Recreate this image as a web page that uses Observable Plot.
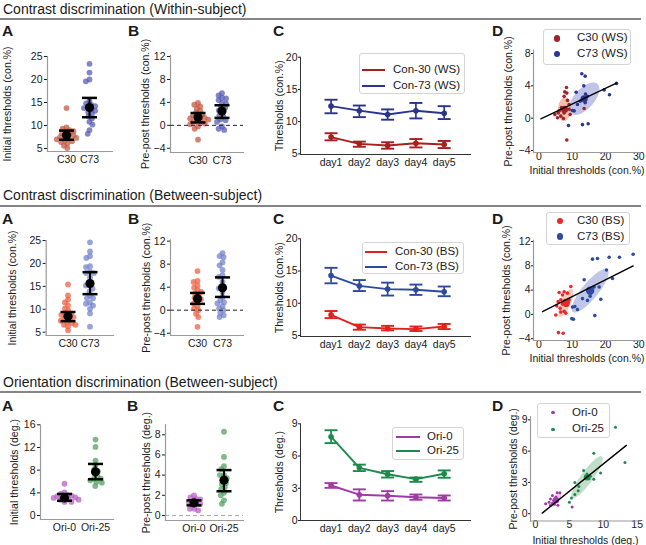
<!DOCTYPE html>
<html><head><meta charset="utf-8">
<script src="https://cdn.jsdelivr.net/npm/d3@7"></script>
<script src="https://cdn.jsdelivr.net/npm/@observablehq/plot@0.6"></script>
<style>
body{margin:0;background:#fff;}
#fig{position:relative;width:646px;height:545px;overflow:hidden;background:#fff;font-family:"Liberation Sans",Arial,Helvetica,sans-serif;color:#1a1a1a;}
.sec{position:absolute;left:3px;font-size:14px;line-height:1;white-space:nowrap;}
.rule{position:absolute;left:0;width:641px;height:0;border-top:2px solid #858585;}
.let{position:absolute;font-weight:bold;font-size:15.5px;line-height:1;}
.legend{position:absolute;background:#fff;border:1px solid #d4d4d4;border-radius:3px;box-sizing:border-box;}
.lg{position:absolute;font-size:11.5px;line-height:1;white-space:nowrap;}
.mk{position:absolute;border-radius:50%;}
.ln{position:absolute;height:0;border-top:2px solid;}
</style></head><body><div id="fig"></div><script>
// ---------------- DATA ----------------
const days = ["day1", "day2", "day3", "day4", "day5"];

// Row 1: Contrast discrimination (Within-subject)
const wsCats = ["C30", "C73"];
const wsInitC30 = [13.8, 9.6, 9.3, 9.0, 8.8, 8.6, 8.3, 8.1, 7.9, 7.7, 7.5, 7.3, 7.1, 7.0, 6.8, 6.6, 6.4, 6.1, 5.6, 5.1];
const wsInitC73 = [23.4, 21.5, 20.0, 19.6, 15.3, 14.8, 14.5, 14.2, 14.0, 13.8, 13.5, 13.2, 12.9, 12.5, 12.0, 11.5, 10.8, 10.2, 9.0, 8.2];
const wsInitStats = [[7.9, 6.9, 8.9], [13.9, 11.8, 16.0]];
const wsPreC30 = [3.9, 3.6, 3.3, 2.9, 2.5, 2.2, 1.9, 1.7, 1.6, 1.3, 1.2, 0.9, 0.6, 0.6, 0.3, 0.2, -0.2, -0.6, -2.5, 1.0];
const wsPreC73 = [5.6, 5.2, 4.8, 4.7, 4.4, 3.9, 3.8, 3.2, 3.1, 2.6, 2.2, 1.7, 1.5, 1.0, 0.9, 0.6, -0.2, -0.6, -0.8];
const wsPreStats = [[1.4, 0.5, 2.15], [2.5, 1.3, 3.5]];
const wsSeries = ["Con-30 (WS)", "Con-73 (WS)"];
const wsC30Mean = [7.6, 6.55, 6.3, 6.65, 6.45];
const wsC30Lo = [7.1, 6.1, 5.8, 6.0, 5.9];
const wsC30Hi = [8.2, 6.9, 6.8, 7.3, 7.0];
const wsC73Mean = [12.4, 11.7, 11.1, 11.7, 11.3];
const wsC73Lo = [11.3, 10.7, 10.3, 10.5, 10.4];
const wsC73Hi = [13.4, 12.5, 11.9, 12.9, 12.4];
const wsScC30x = [8.3, 7.8, 8.4, 7.6, 8.6, 6.8, 6.1, 4.8, 5.6, 6.6, 7.6, 9.1, 9.4, 8.4, 7.1, 8.1, 7.4, 5.8, 9.1, 13.6];
const wsScC30y = [3.8, 3.25, 3.1, 2.7, 2.2, 1.3, 0.9, 0.45, 0.05, 0.25, 0.65, 1.1, 0.45, -2.7, 1.2, 0.95, -0.05, 0.65, 1.7, 1.2];
const wsScC73x = [12.9, 13.9, 11.2, 12.4, 13.6, 14.6, 10.1, 10.6, 13.1, 14.8, 8.9, 13.9, 11.6, 23.3, 21.2, 19.6, 13.5, 14.0];
const wsScC73y = [5.5, 5.2, 3.2, 2.1, 2.3, 2.7, 0.95, 0.9, -0.8, -0.7, -0.9, 1.9, 1.7, 4.3, 2.9, 3.5, 4.0, 3.0];
const wsEllC30 = [7.7, 1.1, 0.5, 1.45, 1.9, -0.25];   // centre x, y, axis1 dx, dy, axis2 dx, dy
const wsEllC73 = [13.6, 2.4, 4.0, 1.83, 2.2, -0.83];
const wsFit = [0.194, -0.196, 0.6, 23.3];             // slope, intercept, x from, x to

// Row 2: Contrast discrimination (Between-subject)
const bsCats = ["C30", "C73"];
const bsInitC30 = [15.4, 13.0, 12.1, 11.5, 10.8, 10.2, 9.7, 9.2, 9.0, 8.8, 8.5, 8.3, 7.9, 7.8, 7.5, 7.2, 7.0, 6.6, 6.6, 6.3, 5.4];
const bsInitC73 = [24.6, 22.6, 21.6, 21.2, 19.4, 19.2, 18.2, 17.9, 17.9, 16.9, 15.2, 15.2, 14.5, 13.9, 13.0, 12.4, 12.4, 11.4, 11.2, 10.8, 10.1, 9.1, 6.2];
const bsInitStats = [[8.5, 7.4, 9.4], [15.6, 13.3, 18.1]];
const bsPreC30 = [6.8, 5.1, 4.9, 4.3, 3.9, 3.5, 3.2, 2.9, 2.5, 2.2, 1.9, 1.6, 1.2, 0.7, 0.3, 0.0, -0.6, -1.2, -2.9];
const bsPreC73 = [9.9, 9.4, 9.2, 8.3, 7.8, 7.0, 6.1, 5.8, 4.9, 4.1, 3.8, 3.2, 2.3, 1.7, 1.4, 1.2, 0.7, 0.3, 0.0, -0.5, -0.9, -1.2];
const bsPreStats = [[2.0, 1.1, 3.0], [3.9, 2.3, 5.7]];
const bsSeries = ["Con-30 (BS)", "Con-73 (BS)"];
const bsC30Mean = [8.2, 6.3, 6.1, 6.0, 6.4];
const bsC30Lo = [7.7, 5.9, 5.8, 5.7, 6.0];
const bsC30Hi = [8.8, 6.7, 6.5, 6.4, 6.8];
const bsC73Mean = [14.3, 12.7, 12.2, 12.1, 11.8];
const bsC73Lo = [13.1, 11.9, 11.2, 11.3, 11.1];
const bsC73Hi = [15.5, 13.6, 13.2, 12.9, 12.6];
const bsScC30x = [6.1, 7.1, 7.6, 8.6, 5.8, 6.6, 5.4, 6.4, 5.1, 7.6, 8.1, 9.1, 9.6, 5.9, 7.3, 6.6, 7.1, 7.8, 8.4];
const bsScC30y = [3.6, 3.2, 3.7, 3.5, 2.1, 2.4, 1.4, 1.0, -0.1, 0.5, 0.2, 2.4, 4.6, -3.0, -3.1, 0.4, 1.7, 2.1, 1.5];
const bsScC73x = [16.1, 17.6, 21.1, 24.2, 28.3, 20.3, 13.6, 22.1, 16.6, 18.1, 15.4, 18.6, 10.8, 11.6, 10.1, 9.9, 10.4, 16.8, 14.6, 13.1];
const bsScC73y = [9.1, 9.2, 9.4, 9.4, 9.9, 7.3, 5.7, 5.9, 4.5, 4.5, 3.0, 2.5, 1.3, 0.8, 1.2, -0.7, -0.8, -0.2, 2.3, 2.6];
const bsEllC30 = [8.1, 1.9, 1.8, 2.27, 1.3, -0.35];
const bsEllC73 = [15.4, 3.9, 5.2, 3.5, 1.9, -0.83];
const bsFit = [0.277, 0.135, 1.1, 28.3];

// Row 3: Orientation discrimination (Between-subject)
const orCats = ["Ori-0", "Ori-25"];
const orInit0 = [5.6, 4.1, 3.8, 3.6, 3.5, 3.4, 3.2, 3.2, 3.1, 2.9, 2.8, 2.8, 2.4, 2.4];
const orInit25 = [13.4, 12.1, 9.7, 8.9, 8.2, 7.8, 7.4, 6.9, 6.5, 6.5, 6.2, 5.9, 5.8, 5.2];
const orInitStats = [[3.1, 2.6, 3.8], [7.7, 6.4, 9.1]];
const orPre0 = [2.0, 1.8, 1.65, 1.6, 1.4, 1.3, 1.15, 1.15, 1.0, 0.66, 0.66, 0.5];
const orPre25 = [8.3, 5.8, 4.9, 4.6, 4.0, 4.0, 3.7, 3.5, 3.2, 3.1, 2.8, 2.6, 2.25, 2.0, 1.5, 1.15];
const orPreStats = [[1.25, 1.0, 1.5], [3.5, 2.4, 4.5]];
const orSeries = ["Ori-0", "Ori-25"];
const or0Mean = [3.26, 2.4, 2.3, 2.17, 2.1];
const or0Lo = [3.04, 1.86, 1.86, 1.93, 1.86];
const or0Hi = [3.48, 2.9, 2.73, 2.42, 2.33];
const or25Mean = [7.8, 4.9, 4.3, 3.85, 4.35];
const or25Lo = [7.2, 4.6, 4.0, 3.6, 3.98];
const or25Hi = [8.4, 5.2, 4.6, 4.0, 4.66];
const orSc0x = [3.2, 3.6, 2.5, 3.0, 2.2, 2.7, 3.2, 2.0, 2.5, 2.8, 1.5, 2.2, 3.3, 5.4];
const orSc0y = [2.0, 2.0, 1.75, 1.6, 1.4, 1.3, 1.2, 1.1, 1.0, 0.9, 0.95, 0.8, 0.8, 0.65];
const orSc25x = [11.8, 8.6, 13.2, 9.6, 7.1, 7.6, 8.1, 7.4, 7.9, 8.6, 5.8, 6.4, 6.3, 5.8, 5.3, 5.0];
const orSc25y = [8.3, 5.8, 4.9, 3.9, 4.15, 3.8, 3.6, 3.45, 3.35, 3.3, 3.0, 2.6, 2.2, 1.85, 1.5, 1.1];
const orEll0 = [3.0, 1.3, 0.74, 0.64, 0.35, -0.17];
const orEll25 = [7.6, 3.5, 2.2, 1.98, 0.72, -0.34];
const orFit = [0.523, -0.46, 0.99, 13.4];

// ---------------- DRAWING ----------------
const fig = document.getElementById("fig");
const FONT = '"Liberation Sans", Arial, Helvetica, sans-serif';
const baseStyle = {fontFamily: FONT, fontSize: "10.5px", color: "#1a1a1a", background: "transparent", overflow: "visible"};
const capSymbol = {draw(ctx, size) { const w = Math.sqrt(size / Math.PI); ctx.moveTo(-w, 0); ctx.lineTo(w, 0); }};

function dims(box, fr) {
  return {width: box.w, height: box.h, marginLeft: fr.l - box.x, marginRight: box.x + box.w - fr.r,
          marginTop: fr.t - box.y, marginBottom: box.y + box.h - fr.b};
}
function put(svg, box) {
  svg.style.position = "absolute"; svg.style.left = box.x + "px"; svg.style.top = box.y + "px";
  fig.appendChild(svg);
}
function html(cls, text, css) {
  const e = document.createElement("div"); e.className = cls; if (text) e.textContent = text;
  Object.assign(e.style, css); fig.appendChild(e); return e;
}

function strip(c) {
  const d = dims(c.box, c.fr);
  const pts = c.cats.flatMap((cat, k) => c.values[k].map(v => ({cat, v})));
  const st = c.cats.map((cat, k) => ({cat, m: c.stats[k][0], lo: c.stats[k][1], hi: c.stats[k][2]}));
  const band = {domain: c.cats, paddingInner: 0.3, paddingOuter: c.po, align: c.align};
  const back = Plot.plot({...d, style: baseStyle,
    facet: {data: pts, x: "cat"},
    fx: {...band, axis: null, label: null},
    y: {domain: c.yd, axis: null},
    marks: [
      Plot.dot(pts, Plot.dodgeX({anchor: "middle", padding: 0.3, r: 1.9},
        {y: "v", r: 2.9, fill: p => c.colors[c.cats.indexOf(p.cat)], fillOpacity: 0.72, stroke: "none"}))
    ]});
  put(back, c.box);
  const front = Plot.plot({...d, style: baseStyle,
    x: {type: "band", ...band, tickSize: 0, tickPadding: c.xpad ?? 4, label: null},
    y: {domain: c.yd, ticks: c.yticks, tickSize: 3, tickPadding: 2, label: c.label, labelAnchor: "center", labelOffset: c.labelOffset, labelArrow: "none"},
    marks: [
      Plot.frame({anchor: "left", stroke: "#9a9a9a", strokeWidth: 1.2}),
      Plot.frame({anchor: "bottom", stroke: "#9a9a9a", strokeWidth: 1.2}),
      c.zero ? Plot.ruleY([0], {stroke: c.zero, strokeDasharray: "4,3", strokeWidth: 1}) : null,
      Plot.ruleX(st, {x: "cat", y1: "lo", y2: "hi", stroke: "#000", strokeWidth: 2}),
      Plot.dot(st, {x: "cat", y: "lo", symbol: capSymbol, r: 7.5, stroke: "#000", strokeWidth: 2.5, fill: "none"}),
      Plot.dot(st, {x: "cat", y: "hi", symbol: capSymbol, r: 7.5, stroke: "#000", strokeWidth: 2.5, fill: "none"}),
      Plot.dot(st, {x: "cat", y: "m", r: 4.6, fill: "#000", stroke: "none"})
    ]});
  put(front, c.box);
}

function curves(c) {
  const d = dims(c.box, c.fr);
  const rows = c.series.flatMap((s, k) => days.map((day, i) =>
    ({s, i, m: c.means[k][i], lo: c.los[k][i], hi: c.his[k][i]})));
  const svg = Plot.plot({...d, style: baseStyle,
    x: {domain: [-1.08, 4.93], ticks: [0, 1, 2, 3, 4], tickFormat: i => days[i], tickSize: 0, tickPadding: 4, label: null},
    y: {domain: c.yd, ticks: c.yticks, tickSize: 2, tickPadding: 1, label: c.label, labelAnchor: "center", labelOffset: c.labelOffset, labelArrow: "none"},
    color: {domain: c.series, range: c.colors},
    marks: [
      Plot.frame({anchor: "left", stroke: "#333", strokeWidth: 1}),
      Plot.frame({anchor: "bottom", stroke: "#333", strokeWidth: 1}),
      Plot.ruleX(rows, {x: "i", y1: "lo", y2: "hi", stroke: "s", strokeWidth: 1.7}),
      Plot.dot(rows, {x: "i", y: "lo", symbol: capSymbol, r: 6.5, stroke: "s", strokeWidth: 1.9, fill: "none"}),
      Plot.dot(rows, {x: "i", y: "hi", symbol: capSymbol, r: 6.5, stroke: "s", strokeWidth: 1.9, fill: "none"}),
      Plot.line(rows, {x: "i", y: "m", stroke: "s", z: "s", strokeWidth: 1.9}),
      Plot.dot(rows, {x: "i", y: "m", fill: "s", r: 2.8, stroke: "none"})
    ]});
  put(svg, c.box);
  const L = c.legend;
  html("legend", "", {left: L.l + "px", top: L.t + "px", width: L.w + "px", height: L.h + "px"});
  c.series.forEach((s, k) => {
    html("ln", "", {left: L.lx + "px", top: (L.ys[k] - 1) + "px", width: L.lw + "px", borderTopColor: c.colors[k]});
    html("lg", s, {left: L.tx + "px", top: (L.ys[k] - 6) + "px"});
  });
}

function ellipsePts(e) {
  return d3.range(73).map(k => {
    const t = 2 * Math.PI * k / 72;
    return {x: e[0] + e[2] * Math.cos(t) + e[4] * Math.sin(t), y: e[1] + e[3] * Math.cos(t) + e[5] * Math.sin(t)};
  });
}

function scatter(c) {
  const d = dims(c.box, c.fr);
  const marks = [
    Plot.frame({anchor: "left", stroke: "#9a9a9a", strokeWidth: 1.2}),
    Plot.frame({anchor: "bottom", stroke: "#9a9a9a", strokeWidth: 1.2})
  ];
  c.groups.forEach(g => {
    marks.push(Plot.line(ellipsePts(g.ell), {x: "x", y: "y", curve: "linear-closed", fill: g.ellColor, fillOpacity: 0.55, stroke: "none"}));
  });
  c.groups.forEach(g => {
    const pts = g.xs.map((x, i) => ({x, y: g.ys[i]}));
    marks.push(Plot.dot(pts, {x: "x", y: "y", r: c.dotR, fill: g.color, stroke: "none"}));
  });
  c.groups.forEach(g => {
    marks.push(Plot.dot([{x: g.ell[0], y: g.ell[1]}], {x: "x", y: "y", r: c.meanR, fill: g.color, stroke: "none"}));
  });
  const f = c.fit;
  marks.push(Plot.line([f[2], f[3]].map(x => ({x, y: f[1] + f[0] * x})), {x: "x", y: "y", stroke: "#000", strokeWidth: 1.4}));
  const svg = Plot.plot({...d, style: baseStyle,
    x: {domain: c.xd, ticks: c.xticks, tickSize: 0, tickPadding: 0, label: c.xlabel, labelAnchor: "center", labelOffset: c.xlabelOffset, labelArrow: "none"},
    y: {domain: c.yd, ticks: c.yticks, tickSize: 2, tickPadding: 1, label: c.ylabel, labelAnchor: "center", labelOffset: c.ylabelOffset, labelArrow: "none"},
    marks});
  put(svg, c.box);
  const L = c.legend;
  html("legend", "", {left: L.l + "px", top: L.t + "px", width: L.w + "px", height: L.h + "px"});
  c.groups.forEach((g, k) => {
    html("mk", "", {left: (L.mx - L.mr) + "px", top: (L.ys[k] - L.mr) + "px", width: 2 * L.mr + "px", height: 2 * L.mr + "px", background: g.color});
    html("lg", g.name, {left: L.tx + "px", top: (L.ys[k] - 6) + "px"});
  });
}

// ---- titles, rules, letters
html("sec", "Contrast discrimination (Within-subject)", {top: "1.7px"});
html("rule", "", {top: "17.5px"});
html("sec", "Contrast discrimination (Between-subject)", {top: "188.2px"});
html("rule", "", {top: "204.5px"});
html("sec", "Orientation discrimination (Between-subject)", {top: "375.2px"});
html("rule", "", {top: "391px"});
[[22.5, [2, 128, 273, 492]], [210.5, [2, 128, 273, 492]], [397.5, [2, 127, 273, 492]]].forEach(([top, xs]) => {
  ["A", "B", "C", "D"].forEach((t, k) => html("let", t, {left: xs[k] + "px", top: top + "px"}));
});

// ---- Row 1
strip({box: {x: 0, y: 30, w: 125, h: 150}, fr: {l: 47, r: 112, t: 56, b: 151}, cats: wsCats,
  values: [wsInitC30, wsInitC73], stats: wsInitStats, colors: ["#c2553d", "#5257b0"],
  yd: [4.35, 25], yticks: [5, 10, 15, 20, 25], label: "Initial thresholds (con.%)", labelOffset: 43.5, po: 0.563, align: 0.423});
strip({box: {x: 120, y: 30, w: 130, h: 150}, fr: {l: 170, r: 243, t: 54.9, b: 152}, cats: wsCats,
  values: [wsPreC30, wsPreC73], stats: wsPreStats, colors: ["#c2553d", "#5257b0"], zero: "#222",
  yd: [-4.74, 12.2], yticks: [-4, 0, 4, 8, 12], label: "Pre-post thresholds (con.%)", labelOffset: 29, po: 0.67, align: 0.578});
curves({box: {x: 255, y: 30, w: 220, h: 150}, fr: {l: 300, r: 470, t: 56.7, b: 154}, series: wsSeries,
  means: [wsC30Mean, wsC73Mean], los: [wsC30Lo, wsC73Lo], his: [wsC30Hi, wsC73Hi], colors: ["#a91f1f", "#2a348f"],
  yd: [4.9, 20], yticks: [5, 10, 15, 20], label: "Thresholds (con.%)", labelOffset: 25,
  legend: {l: 359, t: 53, w: 106, h: 41, lx: 362, lw: 23, tx: 393, ys: [70, 86]}});
scatter({box: {x: 480, y: 25, w: 166, h: 160}, fr: {l: 533, r: 640, t: 49.8, b: 152},
  groups: [
    {name: "C30 (WS)", xs: wsScC30x, ys: wsScC30y, color: "#a3222a", ell: wsEllC30, ellColor: "#e68e6a"},
    {name: "C73 (WS)", xs: wsScC73x, ys: wsScC73y, color: "#2c3793", ell: wsEllC73, ellColor: "#8e93d4"}],
  fit: wsFit, xd: [-1.59, 30.5], yd: [-4.25, 8.4], xticks: [0, 10, 20, 30], yticks: [-4, 0, 4, 8],
  xlabel: "Initial thresholds (con.%)", ylabel: "Pre-post thresholds (con.%)", xlabelOffset: 21.5, ylabelOffset: 29,
  dotR: 1.8, meanR: 3.6,
  legend: {l: 543, t: 29, w: 88, h: 36, mx: 557, mr: 3.4, tx: 577, ys: [38.3, 54]}});

// ---- Row 2
strip({box: {x: 0, y: 215, w: 125, h: 145}, fr: {l: 45.7, r: 113, t: 240, b: 335}, cats: bsCats,
  values: [bsInitC30, bsInitC73], stats: bsInitStats, colors: ["#ef5b3b", "#6f7fcb"],
  yd: [4.28, 25], yticks: [5, 10, 15, 20, 25], label: "Initial thresholds (con.%)", labelOffset: 38, po: 0.628, align: 0.483});
strip({box: {x: 120, y: 215, w: 130, h: 145}, fr: {l: 170, r: 243, t: 239.5, b: 335}, cats: bsCats,
  values: [bsPreC30, bsPreC73], stats: bsPreStats, colors: ["#ef5b3b", "#6f7fcb"], zero: "#222",
  yd: [-4.4, 12.2], yticks: [-4, 0, 4, 8, 12], label: "Pre-post thresholds (con.%)", labelOffset: 28, po: 0.61, align: 0.598});
curves({box: {x: 255, y: 215, w: 220, h: 145}, fr: {l: 300, r: 470, t: 238.3, b: 336}, series: bsSeries,
  means: [bsC30Mean, bsC73Mean], los: [bsC30Lo, bsC73Lo], his: [bsC30Hi, bsC73Hi], colors: ["#e3201b", "#2d4a9e"],
  yd: [4.85, 20], yticks: [5, 10, 15, 20], label: "Thresholds (con.%)", labelOffset: 25,
  legend: {l: 362, t: 242, w: 102, h: 32, lx: 365, lw: 22, tx: 395, ys: [251.7, 267.3]}});
scatter({box: {x: 480, y: 210, w: 166, h: 165}, fr: {l: 533, r: 640, t: 239.8, b: 340},
  groups: [
    {name: "C30 (BS)", xs: bsScC30x, ys: bsScC30y, color: "#e8282a", ell: bsEllC30, ellColor: "#f49c80"},
    {name: "C73 (BS)", xs: bsScC73x, ys: bsScC73y, color: "#2c4ba4", ell: bsEllC73, ellColor: "#8c99d6"}],
  fit: bsFit, xd: [-1.59, 30.5], yd: [-4.3, 12.2], xticks: [0, 10, 20, 30], yticks: [-4, 0, 4, 8, 12],
  xlabel: "Initial thresholds (con.%)", ylabel: "Pre-post thresholds (con.%)", xlabelOffset: 21.5, ylabelOffset: 31,
  dotR: 1.8, meanR: 4.2,
  legend: {l: 546, t: 212, w: 84, h: 33, mx: 560, mr: 3.4, tx: 577, ys: [221, 236.7]}});

// ---- Row 3
strip({box: {x: 0, y: 400, w: 125, h: 145}, fr: {l: 40, r: 113, t: 424.3, b: 519}, cats: orCats,
  values: [orInit0, orInit25], stats: orInitStats, colors: ["#b35cc2", "#4f9c5c"],
  yd: [-0.7, 16], yticks: [0, 4, 8, 12, 16], label: "Initial thresholds (deg.)", labelOffset: 30, po: 0.327, align: 0.648});
strip({box: {x: 120, y: 400, w: 130, h: 145}, fr: {l: 165, r: 243, t: 424.2, b: 520}, cats: orCats,
  values: [orPre0, orPre25], stats: orPreStats, colors: ["#b35cc2", "#4f9c5c"], zero: "#aaa",
  yd: [-0.5, 9.0], yticks: [0, 2, 4, 6, 8], label: "Pre-post thresholds (deg.)", labelOffset: 23, po: 0.45, align: 0.685});
curves({box: {x: 255, y: 400, w: 220, h: 145}, fr: {l: 300, r: 470, t: 423.3, b: 520}, series: orSeries,
  means: [or0Mean, or25Mean], los: [or0Lo, or25Lo], his: [or0Hi, or25Hi], colors: ["#9f3aa6", "#1b8a4b"],
  yd: [0, 9], yticks: [0, 3, 6, 9], label: "Thresholds (deg.)", labelOffset: 25,
  legend: {l: 392, t: 427, w: 72, h: 33, lx: 396, lw: 24, tx: 427, ys: [436.7, 450.7]}});
scatter({box: {x: 480, y: 400, w: 166, h: 145}, fr: {l: 530, r: 640, t: 416.2, b: 520.5},
  groups: [
    {name: "Ori-0", xs: orSc0x, ys: orSc0y, color: "#a03aa8", ell: orEll0, ellColor: "#d79ee0"},
    {name: "Ori-25", xs: orSc25x, ys: orSc25y, color: "#1d8a50", ell: orEll25, ellColor: "#8ec49a"}],
  fit: orFit, xd: [-0.74, 15.49], yd: [-0.7, 9.3], xticks: [0, 5, 10, 15], yticks: [0, 3, 6, 9],
  xlabel: "Initial thresholds (deg.)", ylabel: "Pre-post thresholds (deg.)", xlabelOffset: 23, ylabelOffset: 21,
  dotR: 1.5, meanR: 3.2,
  legend: {l: 537, t: 403, w: 73, h: 35, mx: 553, mr: 1.6, tx: 572, ys: [412.7, 429.3]}});
</script></body></html>
